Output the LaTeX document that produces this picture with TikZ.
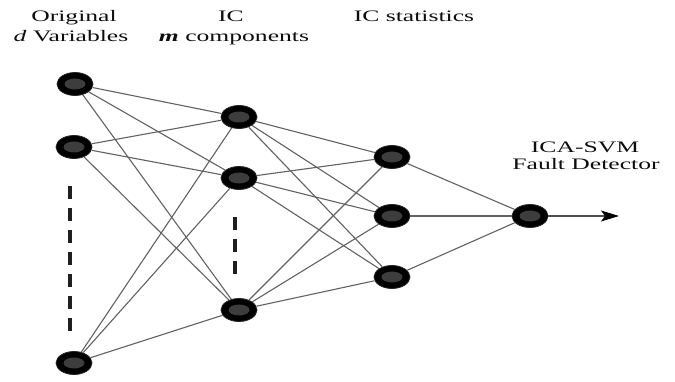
\documentclass[tikz,border=0pt]{standalone}
\usepackage{fontspec}
\setmainfont{Liberation Serif}
\usetikzlibrary{shapes.geometric,arrows.meta}
\tikzset{
  neuron/.style={ellipse, fill=black, draw=black!85, line width=0.8pt, minimum width=36pt, minimum height=23pt, inner sep=0pt,
    path picture={\fill[black!76] (path picture bounding box.center) ellipse (10.5pt and 5.5pt);}},
  link/.style={draw=black!62, line width=1.1pt},
  dots/.style={draw=black!88, line width=4pt, dash pattern=on 13pt off 9pt},
  lbl/.style={inner sep=0pt, anchor=base, text=black!95, font=\fontsize{16}{18}\selectfont}
}
\newcommand{\wide}[1]{\scalebox{1.6}[1]{#1}}
\begin{document}
\begin{tikzpicture}[x=1pt,y=-1pt]
\useasboundingbox (0,0) rectangle (675,382);
% labels
\node[lbl] (t1a) at (74,22) {\wide{Original}};
\node[lbl] (t1b) at (71,42) {\wide{\textit{d} Variables}};
\node[lbl] (t2a) at (231,22) {\wide{IC}};
\node[lbl] (t2b) at (234,42) {\wide{\textbf{\textit{m}} components}};
\node[lbl] (t3) at (414,22) {\wide{IC statistics}};
\node[lbl] (t4a) at (585,153) {\wide{ICA-SVM}};
\node[lbl] (t4b) at (586,170) {\wide{Fault Detector}};
% neurons
\node[neuron] (a1) at (75,84) {};
\node[neuron] (a2) at (74,147) {};
\node[neuron] (a3) at (74,363) {};
\node[neuron] (b1) at (239,117) {};
\node[neuron] (b2) at (239,178) {};
\node[neuron] (b3) at (239,310) {};
\node[neuron] (c1) at (392,157) {};
\node[neuron] (c2) at (392,216) {};
\node[neuron] (c3) at (392,277) {};
\node[neuron] (o) at (530,216) {};
\coordinate (out) at (619,216);
% links
\foreach \i in {a1,a2,a3}{\foreach \j in {b1,b2,b3}{\draw[link] (\i) -- (\j);}}
\foreach \i in {b1,b2,b3}{\foreach \j in {c1,c2,c3}{\draw[link] (\i) -- (\j);}}
\foreach \i in {c1,c2,c3}{\draw[link] (\i) -- (o);}
\draw[link, draw=black!70, -{Stealth[length=18pt,width=11pt,inset=4pt,black]}] (o) -- (out);
% ellipsis dashes
\coordinate (d1s) at (70,186);
\coordinate (d1e) at (70,340);
\coordinate (d2s) at (235,217);
\coordinate (d2e) at (235,280);
\draw[dots] (d1s) -- (d1e);
\draw[dots] (d2s) -- (d2e);
\end{tikzpicture}
\end{document}
